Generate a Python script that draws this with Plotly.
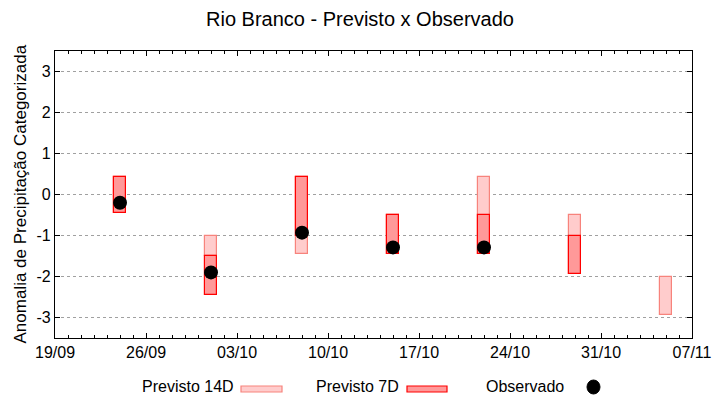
import plotly.graph_objects as go

# ---- data ----
dates = ["2024-09-24", "2024-10-01", "2024-10-08", "2024-10-15",
         "2024-10-22", "2024-10-29", "2024-11-05"]
p14_low = [-0.44, -1.51, -1.44, -1.44, -1.44, -1.95, -2.95]
p14_high = [0.43, -1.00, 0.43, -0.51, 0.43, -0.51, -2.00]
p7_low = [-0.44, -2.44, -1.00, -1.44, -1.44, -1.95, None]
p7_high = [0.43, -1.51, 0.43, -0.51, -0.51, -1.00, None]
obs_dates = ["2024-09-24", "2024-10-01", "2024-10-08", "2024-10-15", "2024-10-22"]
obs_vals = [-0.20, -1.90, -0.93, -1.29, -1.29]

y_ticks = [-3, -2, -1, 0, 1, 2, 3]

FONT = "Liberation Sans, Arial, sans-serif"
DAY = 86400000
bar_w = 0.93 * DAY

c14_fill, c14_line = "#ffcccc", "#f7837c"
c7_fill, c7_line = "#ff9999", "#ff0000"

def span(lo, hi):
    return [None if (a is None or b is None) else b - a for a, b in zip(lo, hi)]

fig = go.Figure()
fig.add_trace(go.Bar(x=dates, y=span(p14_low, p14_high), base=p14_low,
                     width=[bar_w] * len(dates),
                     marker=dict(color=c14_fill, line=dict(color=c14_line, width=1.2)),
                     name="Previsto 14D", showlegend=False))
fig.add_trace(go.Bar(x=dates, y=span(p7_low, p7_high), base=p7_low,
                     width=[bar_w] * len(dates),
                     marker=dict(color=c7_fill, line=dict(color=c7_line, width=1.2)),
                     name="Previsto 7D", showlegend=False))
fig.add_trace(go.Scatter(x=obs_dates, y=obs_vals, mode="markers",
                         marker=dict(color="black", size=14, symbol="circle"),
                         name="Observado", showlegend=False))

ML, MR, MT, MB = 55, 28, 51, 62
fig.update_layout(
    width=720, height=400,
    margin=dict(l=ML, r=MR, t=MT, b=MB),
    paper_bgcolor="white", plot_bgcolor="white",
    barmode="overlay", bargap=0,
    font=dict(family=FONT, size=16, color="black"),
    title=dict(text="Rio Branco - Previsto x Observado", x=0.5, xref="container",
               xanchor="center", y=0.952, yanchor="middle",
               font=dict(family=FONT, size=20, color="black")),
)

fig.update_xaxes(
    type="date", range=["2024-09-19", "2024-11-07"], automargin=False,
    tick0="2024-09-19", dtick=7 * DAY, tickformat="%d/%m",
    ticks="inside", ticklen=5, tickcolor="black", tickwidth=1,
    showline=True, linecolor="black", linewidth=1.2, mirror="allticks",
    showgrid=False, zeroline=False,
    minor=dict(dtick=DAY, ticks="inside", ticklen=3, tickcolor="black", showgrid=False),
    tickfont=dict(family=FONT, size=16),
)
fig.update_yaxes(
    range=[-3.5, 3.5], tickvals=y_ticks, ticktext=[str(v) for v in y_ticks],
    automargin=False,
    ticks="inside", ticklen=5, tickcolor="black",
    showline=True, linecolor="black", linewidth=1.2, mirror="allticks",
    showgrid=True, gridcolor="#a0a0a0", griddash="dot", gridwidth=1,
    zeroline=False, tickfont=dict(family=FONT, size=16),
)

PW, PH = 720.0 - ML - MR, 400.0 - MT - MB
def px(x):
    return (x - ML) / PW
def py(y):
    return (400 - MB - y) / PH

# y-axis title
fig.add_annotation(text="Anomalia de Precipitação Categorizada", xref="paper", yref="paper",
                   x=px(20), y=0.5, xanchor="center", yanchor="middle",
                   textangle=-90, showarrow=False, font=dict(family=FONT, size=17))

# manual legend (text then sample, gnuplot style)
leg_y = 386
legend_items = [
    ("Previsto 14D", 236, (241, 282), c14_fill, c14_line, "rect"),
    ("Previsto 7D", 401, (407, 447), c7_fill, c7_line, "rect"),
    ("Observado", 566, (587, 600), "black", "black", "circle"),
]
for text, tx, (s0, s1), fill, line, kind in legend_items:
    fig.add_annotation(text=text, xref="paper", yref="paper", x=px(tx), y=py(leg_y),
                       xanchor="right", yanchor="middle", showarrow=False,
                       font=dict(family=FONT, size=16))
    if kind == "rect":
        fig.add_shape(type="rect", xref="paper", yref="paper",
                      x0=px(s0), x1=px(s1), y0=py(leg_y + 6), y1=py(leg_y),
                      fillcolor=fill, line=dict(color=line, width=1.2))
    else:
        fig.add_shape(type="circle", xref="paper", yref="paper",
                      x0=px(s0), x1=px(s1), y0=py(leg_y + 8), y1=py(leg_y - 6),
                      fillcolor=fill, line=dict(color=line, width=1))

fig.write_html("out.html", config={"displayModeBar": False},
               post_script="document.body.style.margin='0px';")
